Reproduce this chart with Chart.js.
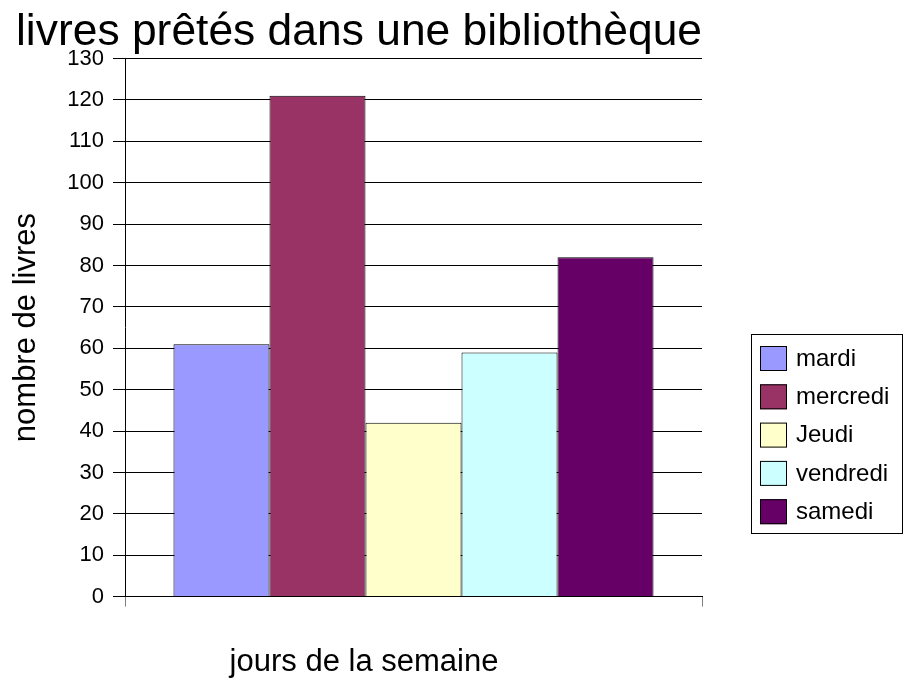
<!DOCTYPE html>
<html>
<head>
<meta charset="utf-8">
<script src="https://cdn.jsdelivr.net/npm/chart.js@4"></script>
<style>
  body { margin: 0; background: #fff; }
</style>
</head>
<body>
<canvas id="myChart" width="904" height="680"></canvas>
<script>
const jours = ['mardi', 'mercredi', 'Jeudi', 'vendredi', 'samedi'];
const livres = [61, 121, 42, 59, 82];
const categories = [''];
const yMin = 0;
const yMax = 130;
const yStep = 10;

const couleurs = ['#9999FF', '#993366', '#FFFFCC', '#CCFFFF', '#660066'];

Chart.defaults.font.family = "'Liberation Sans', Arial, sans-serif";
Chart.defaults.color = '#000';

const ctx = document.getElementById('myChart');

// legende + titre de l'axe x dessines a la main
const legendeBoite = {
    id: 'legendeBoite',
    afterDraw(chart) {
        const c = chart.ctx;
        c.save();
        c.strokeStyle = '#000';
        c.lineWidth = 1;
        c.strokeRect(751.5, 334.5, 151, 199);
        c.font = "24px 'Liberation Sans', Arial";
        c.textBaseline = 'middle';
        c.textAlign = 'left';
        chart.data.datasets.forEach((ds, i) => {
            const y = 346 + i * 38.3;
            c.fillStyle = ds.backgroundColor;
            c.fillRect(760, y, 27, 25);
            c.strokeStyle = '#000';
            c.strokeRect(760.5, y + 0.5, 26, 24);
            c.fillStyle = '#000';
            c.fillText(ds.label, 796, y + 13);
        });
        c.font = "31px 'Liberation Sans', Arial";
        c.textAlign = 'center';
        c.textBaseline = 'alphabetic';
        c.fillText('jours de la semaine', 364, 671);
        c.restore();
    }
};

new Chart(ctx, {
    type: 'bar',
    data: {
        labels: categories,
        datasets: jours.map((j, i) => ({
            label: j,
            data: [livres[i]],
            backgroundColor: couleurs[i],
            borderColor: '#000',
            borderWidth: 1,
            categoryPercentage: 0.832,
            barPercentage: 1
        }))
    },
    options: {
        responsive: false,
        animation: false,
        layout: {
            padding: { left: 16, right: 202, top: 0, bottom: 0 }
        },
        plugins: {
            legend: { display: false },
            tooltip: { enabled: false },
            title: {
                display: true,
                text: 'livres prêtés dans une bibliothèque',
                align: 'start',
                color: '#000',
                font: { size: 44.5, weight: 'normal', lineHeight: 1 },
                padding: { top: 10.5, bottom: 3.6 }
            }
        },
        scales: {
            x: {
                ticks: { display: false },
                grid: {
                    offset: true,
                    drawOnChartArea: false,
                    drawTicks: true,
                    tickLength: 10,
                    color: '#808080'
                },
                border: { display: true, color: '#000' },
                afterFit(scale) { scale.height = 83.4; }
            },
            y: {
                min: yMin,
                max: yMax,
                ticks: {
                    stepSize: yStep,
                    padding: 9,
                    font: { size: 22 },
                    color: '#000'
                },
                grid: {
                    color: '#000',
                    tickLength: 12
                },
                border: { display: true, color: '#000' },
                title: {
                    display: true,
                    text: 'nombre de livres',
                    color: '#000',
                    font: { size: 31, lineHeight: 0.7 },
                    padding: { top: 0, bottom: 0 }
                },
                afterFit(scale) { scale.width = 109; }
            }
        }
    },
    plugins: [legendeBoite]
});
</script>
</body>
</html>
